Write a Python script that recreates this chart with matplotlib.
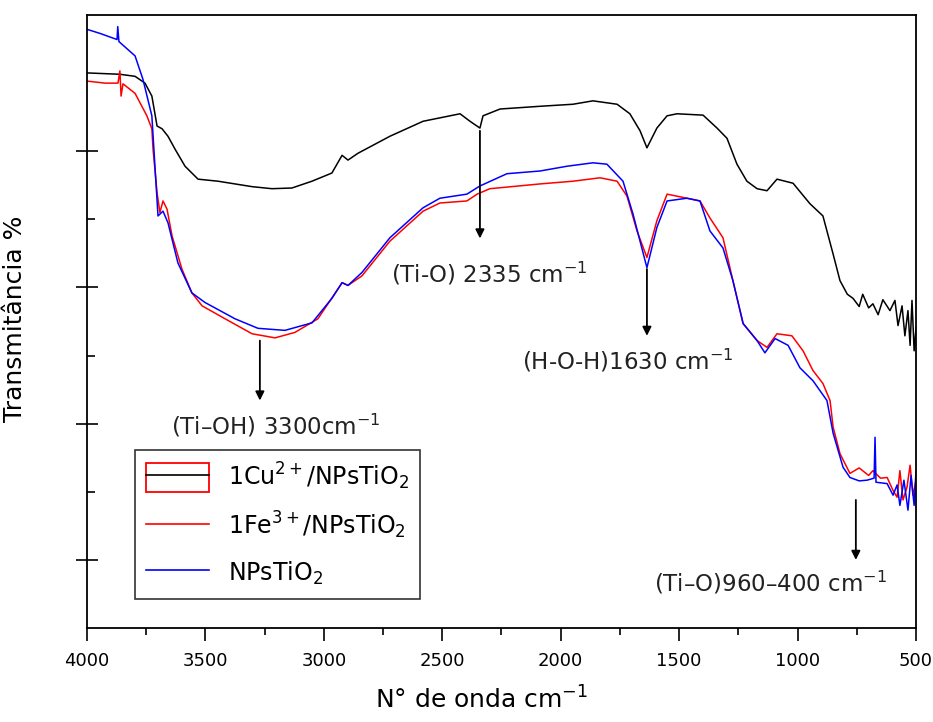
import numpy as np
import matplotlib
matplotlib.use("Agg")
import matplotlib.pyplot as plt
from matplotlib.patches import Rectangle
from matplotlib.lines import Line2D
from matplotlib.legend_handler import HandlerTuple
from matplotlib.ticker import MultipleLocator, FixedLocator, NullFormatter

plt.rcParams['font.family'] = ['DejaVu Sans']
plt.rcParams['mathtext.default'] = 'regular'

# FTIR spectra (wavenumber cm-1, transmittance a.u.)
wn_cu = [4000, 3861, 3797, 3755, 3726, 3704, 3683, 3658, 3628, 3586, 3531, 3447,
         3303, 3219, 3135, 3050, 2966, 2923, 2898, 2856, 2721, 2581, 2425, 2383,
         2341, 2328, 2256, 2087, 1948, 1864, 1762, 1708, 1665, 1636, 1594, 1551,
         1509, 1399, 1340, 1298, 1256, 1214, 1171, 1129, 1087, 1019, 948, 893,
         850, 821, 790, 766, 740, 725, 700, 682, 660, 640, 610, 589, 576, 559,
         547, 534, 525, 517, 508, 500]
t_cu = [81.5, 81.3, 81.0, 80.0, 78.1, 73.7, 73.3, 72.2, 70.3, 67.8, 65.9, 65.6,
        64.8, 64.5, 64.6, 65.6, 66.8, 69.4, 68.7, 69.7, 72.2, 74.4, 75.5, 74.4,
        73.4, 75.2, 76.2, 76.6, 76.9, 77.4, 76.9, 75.5, 73.0, 70.5, 73.4, 75.2,
        75.5, 75.3, 73.4, 71.9, 68.1, 65.6, 64.5, 64.2, 65.9, 65.3, 62.3, 60.5,
        54.9, 51.0, 49.0, 48.4, 47.2, 49.0, 47.0, 47.6, 46.0, 48.2, 46.6, 48.1,
        44.4, 47.3, 42.9, 46.6, 41.5, 48.1, 40.7, 44.1]

wn_fe = [4000, 3924, 3869, 3861, 3856, 3848, 3797, 3747, 3726, 3721, 3704, 3692,
         3679, 3662, 3641, 3599, 3557, 3514, 3417, 3303, 3206, 3122, 3025, 2940,
         2923, 2898, 2839, 2721, 2581, 2510, 2396, 2353, 2299, 2087, 1948, 1834,
         1762, 1720, 1678, 1636, 1594, 1551, 1467, 1412, 1370, 1315, 1273, 1230,
         1171, 1129, 1087, 1024, 977, 935, 893, 863, 850, 821, 779, 740, 700,
         682, 650, 622, 597, 580, 568, 555, 538, 525, 513, 500]
t_fe = [80.3, 80.0, 80.0, 81.8, 78.1, 79.9, 78.5, 75.2, 73.3, 70.3, 63.9, 61.0,
        62.7, 61.5, 57.6, 52.7, 49.2, 47.3, 45.4, 43.2, 42.6, 43.4, 45.4, 49.8,
        50.7, 50.3, 51.7, 56.8, 61.2, 62.4, 62.7, 63.7, 64.5, 65.2, 65.6, 66.1,
        65.6, 63.4, 58.3, 54.4, 59.8, 63.7, 63.1, 62.7, 60.2, 57.3, 51.0, 44.7,
        42.2, 41.2, 43.2, 42.9, 40.7, 37.8, 35.9, 33.4, 29.5, 25.6, 22.7, 23.5,
        22.4, 23.1, 22.0, 22.1, 20.2, 19.2, 23.1, 18.8, 20.7, 23.9, 19.5, 21.7]

wn_ti = [4000, 3945, 3873, 3870, 3865, 3797, 3764, 3726, 3713, 3700, 3679, 3658,
         3616, 3557, 3502, 3375, 3278, 3164, 3050, 2966, 2923, 2898, 2839, 2721,
         2581, 2510, 2396, 2341, 2227, 2087, 1973, 1864, 1805, 1737, 1695, 1636,
         1594, 1551, 1467, 1412, 1370, 1315, 1273, 1230, 1171, 1138, 1095, 1040,
         990, 935, 876, 850, 808, 779, 740, 707, 677, 673, 669, 622, 597, 580,
         568, 551, 534, 521, 508, 500]
t_ti = [87.9, 87.3, 86.4, 88.3, 86.1, 84.0, 80.6, 75.2, 67.8, 60.5, 61.2, 59.5,
        53.6, 49.2, 47.8, 45.4, 44.0, 43.7, 44.8, 48.4, 50.7, 50.3, 52.2, 57.3,
        61.7, 63.1, 63.7, 64.9, 66.7, 67.1, 67.8, 68.3, 68.1, 65.6, 60.8, 52.9,
        58.8, 62.7, 63.1, 62.7, 58.3, 55.8, 51.0, 44.7, 42.2, 40.4, 42.5, 41.5,
        38.2, 36.3, 33.4, 28.6, 23.6, 22.1, 21.6, 21.7, 22.0, 28.0, 21.4, 21.2,
        19.5, 21.0, 18.0, 21.7, 17.3, 22.4, 18.0, 23.1]

# band assignments: (label, arrow x, arrow start y, arrow end y, text x, text y)
band_labels = ['(Ti\u2013OH) 3300cm$^{-1}$', '(Ti-O) 2335 cm$^{-1}$',
               '(H-O-H)1630 cm$^{-1}$', '(Ti\u2013O)960\u2013400 cm$^{-1}$']
band_x = [3270, 2341, 1636, 754]
band_y0 = [42.2, 73.0, 52.7, 18.8]
band_y1 = [33.4, 57.2, 42.9, 10.0]
text_x = [3202, 2303, 1716, 1116]
text_y = [29.7, 52.0, 39.3, 6.6]

fig = plt.figure(figsize=(9.33, 7.22), dpi=100)
ax = fig.add_axes([0.0932, 0.1302, 0.8886, 0.849])

ax.plot(wn_cu, t_cu, color='black', lw=1.1)
ax.plot(wn_fe, t_fe, color='red', lw=1.1)
ax.plot(wn_ti, t_ti, color='blue', lw=1.1)

for lab, bx, y0, y1, tx, ty in zip(band_labels, band_x, band_y0, band_y1, text_x, text_y):
    ax.annotate('', xy=(bx, y1), xytext=(bx, y0),
                arrowprops=dict(arrowstyle='-|>', color='black', lw=1.3,
                                mutation_scale=13, shrinkA=0, shrinkB=0))
    ax.text(tx, ty, lab, ha='center', va='center', fontsize=16.5, color='#222222')

ax.set_xlim(4000, 500)
ax.set_ylim(0, 90)
ax.xaxis.set_major_locator(MultipleLocator(500))
ax.xaxis.set_minor_locator(MultipleLocator(250))
ax.yaxis.set_major_locator(FixedLocator([10, 30, 50, 70]))
ax.yaxis.set_minor_locator(FixedLocator([20, 40, 60]))
ax.yaxis.set_major_formatter(NullFormatter())
ax.tick_params(axis='x', which='major', direction='out', length=9, width=1.2,
               labelsize=13, pad=8)
ax.tick_params(axis='x', which='minor', direction='out', length=5, width=1.2)
ax.tick_params(axis='y', which='major', direction='inout', length=16, width=1.2)
ax.tick_params(axis='y', which='minor', direction='in', length=6, width=1.2)
for s in ax.spines.values():
    s.set_linewidth(1.3)

ax.set_xlabel('N\u00b0 de onda cm$^{-1}$', fontsize=18)
ax.set_ylabel('Transmit\u00e2ncia %', fontsize=18)
ax.yaxis.set_label_coords(-0.072, 0.505)
ax.xaxis.set_label_coords(0.476, -0.095)

# legend: first entry drawn as red frame with black line inside
cu_handle = (Rectangle((0, 0), 1, 1, facecolor='white', edgecolor='red', lw=1.3),
             Line2D([], [], color='black', lw=1.2))
fe_handle = Line2D([], [], color='red', lw=1.2)
ti_handle = Line2D([], [], color='blue', lw=1.2)
leg = ax.legend([cu_handle, fe_handle, ti_handle],
                ['1Cu$^{2+}$/NPsTiO$_2$', '1Fe$^{3+}$/NPsTiO$_2$', 'NPsTiO$_2$'],
                handler_map={tuple: HandlerTuple(ndivide=1, pad=0)},
                loc='upper left', bbox_to_anchor=(0.058, 0.290),
                fontsize=17, frameon=True, fancybox=False, edgecolor='black',
                handlelength=2.7, handleheight=1.5, labelspacing=0.75,
                borderpad=0.45, handletextpad=0.8, borderaxespad=0)
leg.get_frame().set_linewidth(1.2)

fig.savefig('out.png', dpi=100)
